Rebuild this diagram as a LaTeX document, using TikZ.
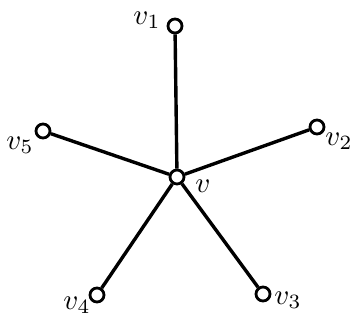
\documentclass[tikz,border=0pt]{standalone}
\begin{document}
\begin{tikzpicture}[x=1pt,y=-1pt,
  vtx/.style={circle,draw,line width=2.8pt,fill=white,inner sep=0pt,minimum size=14pt},
  edge/.style={line width=3.4pt},
  lbl/.style={scale=2.9}]
\useasboundingbox (0,0) rectangle (358,329);
\node[vtx] (v) at (177,177) {};
\node[vtx] (v1) at (175,26) {};
\node[vtx] (v2) at (317,127) {};
\node[vtx] (v3) at (263,294) {};
\node[vtx] (v4) at (97,295) {};
\node[vtx] (v5) at (43,131) {};
\draw[edge] (v) -- (v1);
\draw[edge] (v) -- (v2);
\draw[edge] (v) -- (v3);
\draw[edge] (v) -- (v4);
\draw[edge] (v) -- (v5);
\node[lbl] (l1) at (147,20) {$v_1$};
\node[lbl] (l2) at (339,141) {$v_2$};
\node[lbl] (l3) at (288,300) {$v_3$};
\node[lbl] (l4) at (77,305) {$v_4$};
\node[lbl] (l5) at (20,145) {$v_5$};
\node[lbl] (l) at (203,186) {$v$};
\end{tikzpicture}
\end{document}
